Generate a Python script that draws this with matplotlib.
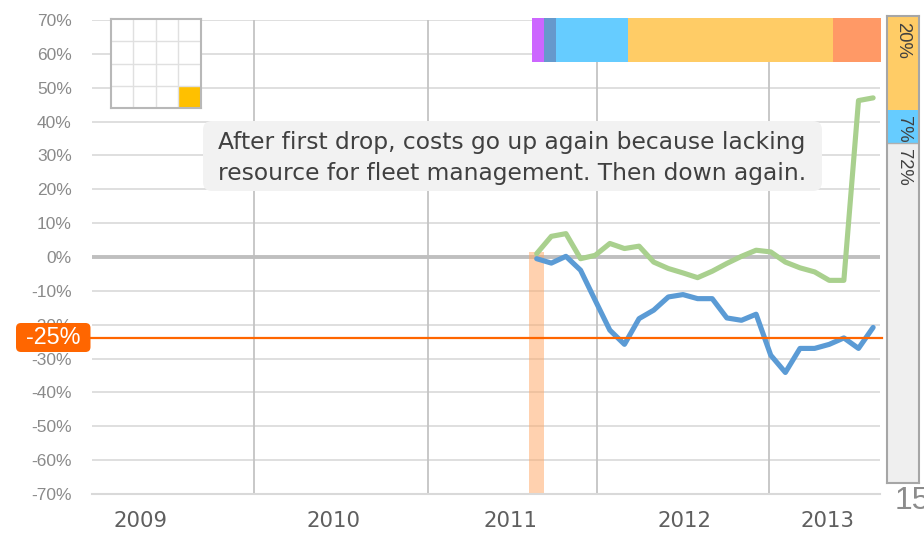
import matplotlib
matplotlib.use("Agg")
import matplotlib.pyplot as plt
from matplotlib.patches import FancyBboxPatch, Rectangle
from matplotlib.transforms import IdentityTransform

# ---------------- data ----------------
periods = list(range(24))
savings_blue = [-0.5, -1.8, 0.2, -3.9, -12.8, -21.6, -25.8, -18.2, -15.7, -11.8,
                -11.1, -12.3, -12.3, -18.0, -18.7, -16.9, -29.0, -34.1, -27.0,
                -27.0, -25.8, -23.9, -27.0, -20.8]
costs_green = [1.0, 6.1, 6.9, -0.5, 0.5, 4.0, 2.5, 3.2, -1.5, -3.4, -4.7, -6.1,
               -4.2, -1.9, 0.2, 2.0, 1.5, -1.5, -3.2, -4.4, -6.9, -6.9, 46.2, 47.0]
target_value = -24
target_label = "-25%"
marker_period = 0
marker_top = 1.5
year_labels = ["2009", "2010", "2011", "2012", "2013"]
year_label_pos = [-27.1, -13.9, -1.8, 10.1, 19.9]
year_boundaries = [-19.3, -7.4, 4.1, 15.9]
y_ticks = list(range(-70, 71, 10))
phase_shares = [3.4, 3.4, 20.7, 58.5, 13.8]
phase_colors = ["#CC66FF", "#6699CC", "#66CCFF", "#FFCC66", "#FF9966"]
mix_values = [72, 7, 20]
mix_labels = ["72%", "7%", "20%"]
mix_colors = ["#EFEFEF", "#66CCFF", "#FFCC66"]
annotation_lines = ["After first drop, costs go up again because lacking",
                    "resource for fleet management. Then down again."]
page_number = "15"

W, H = 924, 533
fig = plt.figure(figsize=(W / 100, H / 100), dpi=100)
fig.patch.set_facecolor("white")


def fx(x):
    return x / W


def fy(y):
    return 1 - y / H


# ---------------- main axes ----------------
ax = fig.add_axes([fx(92), fy(494), fx(880) - fx(92), fy(20) - fy(494)])
ax.set_xlim(-30.4, 23.47)
ax.set_ylim(-70, 70)
for s in ["top", "right", "left"]:
    ax.spines[s].set_visible(False)
ax.spines["bottom"].set_color("#d9d9d9")
ax.spines["bottom"].set_linewidth(1.5)

for v in y_ticks:
    if v != 0:
        ax.axhline(v, color="#d9d9d9", lw=1.2, zorder=0)
ax.axhline(0, color="#bfbfbf", lw=2.8, zorder=1)
for b in year_boundaries:
    ax.axvline(b, color="#c4c4c4", lw=1.3, zorder=0.5)

ax.set_yticks(y_ticks)
ax.set_yticklabels([f"{v}%" for v in y_ticks], family="Liberation Sans",
                   fontsize=12.5, color="#8a8a8a")
ax.set_xticks(year_label_pos)
ax.set_xticklabels(year_labels, family="DejaVu Sans", fontsize=15.3, color="#5f5f5f")
ax.tick_params(axis="y", length=0, pad=14.5)
ax.tick_params(axis="x", length=0, pad=12)

ax.bar([marker_period], [marker_top - (-70)], bottom=-70, width=1.0,
       color="#FFA867", alpha=0.52, zorder=2, linewidth=0)

ax.plot(periods, costs_green, color="#A9D08E", lw=3.7, zorder=3,
        solid_joinstyle="round", solid_capstyle="round")
ax.plot(periods, savings_blue, color="#5B9BD5", lw=3.7, zorder=3.5,
        solid_joinstyle="round", solid_capstyle="round")

ax.axhline(target_value, xmin=-0.003, xmax=1.003, color="#FF6600", lw=1.6,
           zorder=4, clip_on=False)

# ---------------- -25% label ----------------
fig.patches.append(FancyBboxPatch((16, H - 352), 74.5, 29,
                                  boxstyle="round,pad=0,rounding_size=5",
                                  transform=IdentityTransform(), fc="#FF6600",
                                  ec="none", zorder=5, figure=fig))
fig.text(fx(53.2), fy(338), target_label, ha="center", va="center", color="white",
         family="Liberation Sans", fontsize=16.8, zorder=6)

# ---------------- annotation box ----------------
fig.patches.append(FancyBboxPatch((203, H - 191), 619, 70,
                                  boxstyle="round,pad=0,rounding_size=9",
                                  transform=IdentityTransform(), fc="#F2F2F2",
                                  ec="none", zorder=5, figure=fig))
for i, line in enumerate(annotation_lines):
    fig.text(fx(218), fy(149.3 + 30.7 * i), line, ha="left", va="baseline",
             color="#404040", family="DejaVu Sans", fontsize=16.85, zorder=6)

# ---------------- grid icon ----------------
ic = fig.add_axes([fx(110.7), fy(108.3), fx(201) - fx(110.7), fy(19) - fy(108.3)])
ic.set_xlim(0, 4)
ic.set_ylim(0, 4)
ic.set_facecolor("white")
ic.add_patch(Rectangle((3, 0), 1, 1, fc="#FFC000", ec="none"))
for k in range(1, 4):
    ic.axvline(k, color="#e0e0e0", lw=1.0)
    ic.axhline(k, color="#e0e0e0", lw=1.0)
ic.set_xticks([])
ic.set_yticks([])
for s in ic.spines.values():
    s.set_color("#b8b8b8")
    s.set_linewidth(1.5)

# ---------------- phase bar (top) ----------------
pb = fig.add_axes([fx(532), fy(62.3), fx(881) - fx(532), fy(18) - fy(62.3)])
left = 0
for share, col in zip(phase_shares, phase_colors):
    pb.barh([0], [share], left=left, height=1, color=col, linewidth=0)
    left += share
pb.set_xlim(0, sum(phase_shares))
pb.set_ylim(-0.5, 0.5)
pb.axis("off")

# ---------------- mix bar (right) ----------------
mb = fig.add_axes([fx(886.7), fy(482.7), fx(919.3) - fx(886.7), fy(16) - fy(482.7)])
bottom = 0
tops = []
for val, col in zip(mix_values, mix_colors):
    mb.bar([0], [val], bottom=bottom, width=1, color=col, linewidth=0)
    bottom += val
    tops.append(bottom)
mb.axhline(mix_values[0], color="#b0b0b0", lw=1.0)
mb.set_xlim(-0.5, 0.5)
mb.set_ylim(0, sum(mix_values))
mb.set_xticks([])
mb.set_yticks([])
for s in mb.spines.values():
    s.set_color("#a6a6a6")
    s.set_linewidth(1.5)
for top, lab in zip(tops, mix_labels):
    mb.annotate(lab, xy=(0.0, top), xytext=(0, -4), textcoords="offset points",
                rotation=270, ha="center", va="top", color="#404040",
                family="Liberation Sans", fontsize=13.3)

# ---------------- page number ----------------
fig.text(fx(895), fy(486), page_number, ha="left", va="top", color="#8c8c8c",
         family="Liberation Sans", fontsize=23)

fig.savefig("out.png", dpi=100, facecolor="white")
